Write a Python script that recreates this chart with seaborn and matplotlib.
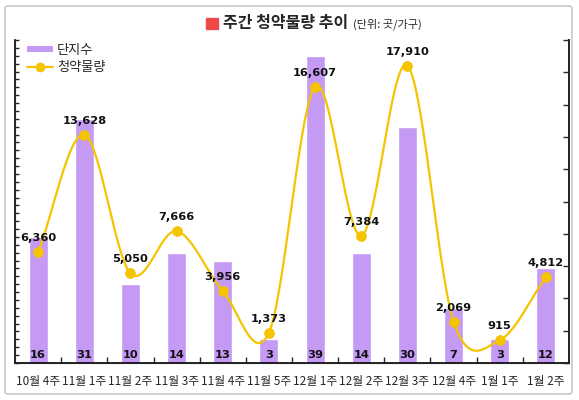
import numpy as np
import pandas as pd
import matplotlib
matplotlib.use("Agg")
import matplotlib.pyplot as plt
import seaborn as sns
from matplotlib.patches import Patch, Rectangle, FancyBboxPatch
from matplotlib.lines import Line2D
from matplotlib.ticker import FixedLocator

# data
weeks = ["10월 4주", "11월 1주", "11월 2주", "11월 3주", "11월 4주", "11월 5주",
         "12월 1주", "12월 2주", "12월 3주", "12월 4주", "1월 1주", "1월 2주"]
complexes = [16, 31, 10, 14, 13, 3, 39, 14, 30, 7, 3, 12]
supply = [6360, 13628, 5050, 7666, 3956, 1373, 16607, 7384, 17910, 2069, 915, 4812]

BAR_COLOR = "#C49AF5"
LINE_COLOR = "#F5C400"

sns.set_style("white")
plt.rcParams["font.family"] = ["Noto Sans CJK KR", "DejaVu Sans"]

df = pd.DataFrame({"pos": np.arange(len(weeks)), "week": weeks,
                   "complexes": complexes, "supply": supply})


def catmull_rom(y, steps=30):
    # smooth curve through the points (Catmull-Rom / Hermite)
    y = np.asarray(y, dtype=float)
    n = len(y)
    m = np.zeros(n)
    m[1:-1] = (y[2:] - y[:-2]) / 2
    m[0] = y[1] - y[0]
    m[-1] = y[-1] - y[-2]
    xs, ys = [], []
    t = np.linspace(0, 1, steps)
    for i in range(n - 1):
        h00 = 2 * t**3 - 3 * t**2 + 1
        h10 = t**3 - 2 * t**2 + t
        h01 = -2 * t**3 + 3 * t**2
        h11 = t**3 - t**2
        xs.append(i + t)
        ys.append(h00 * y[i] + h10 * m[i] + h01 * y[i + 1] + h11 * m[i + 1])
    return np.concatenate(xs), np.concatenate(ys)


fig = plt.figure(figsize=(5.79, 4.0), dpi=100)

# outer frame
fig.patches.append(FancyBboxPatch((5 / 579, 6 / 400), 567 / 579, 388 / 400,
                                  boxstyle="round,pad=0,rounding_size=0.006",
                                  transform=fig.transFigure, fill=False,
                                  edgecolor="#C8C8C8", linewidth=1.2))

ax = fig.add_axes([15 / 579, 37 / 400, 554 / 579, 323 / 400])
sns.barplot(data=df, x="pos", y="complexes", native_scale=True, width=0.41,
            color=BAR_COLOR, saturation=1, ax=ax)
ax.set_xlim(-0.5, len(weeks) - 0.5)
ax.set_ylim(0, 41)
ax.set_xlabel("")
ax.set_ylabel("")
ax.set_xticks(df["pos"])
ax.set_xticklabels(weeks, fontsize=8.5)
ax.xaxis.set_minor_locator(FixedLocator(np.arange(0.5, len(weeks) - 1, 1)))
ax.tick_params(axis="x", which="major", length=0, pad=9)
ax.tick_params(axis="x", which="minor", direction="in", length=4, width=1, bottom=True)
ax.yaxis.set_major_locator(FixedLocator(np.arange(0, 42, 1)))
ax.tick_params(axis="y", direction="in", length=3, width=1, left=True, labelleft=False)
for s in ["left", "bottom", "right"]:
    ax.spines[s].set_color("black")
    ax.spines[s].set_linewidth(1.2)
ax.spines["top"].set_visible(False)

for i, v in enumerate(complexes):
    ax.annotate(str(v), (i, 0), xytext=(0, 6), textcoords="offset points",
                ha="center", va="center", fontsize=8.2, fontweight="bold",
                family="DejaVu Sans", color="#111111")

ax2 = ax.twinx()
xs, ys = catmull_rom(supply)
ax2.plot(xs, ys, color=LINE_COLOR, linewidth=1.6, zorder=3)
sns.scatterplot(data=df, x="pos", y="supply", color=LINE_COLOR, edgecolor=LINE_COLOR,
                s=50, ax=ax2, zorder=4, legend=False)
ax2.set_ylim(-500, 19500)
ax2.set_xlim(-0.5, len(weeks) - 0.5)
ax2.set_ylabel("")
ax2.yaxis.set_major_locator(FixedLocator(np.linspace(-500, 19500, 11)))
ax2.tick_params(axis="y", direction="in", length=4, width=1, right=True, labelright=False)
ax2.spines["top"].set_visible(False)
ax2.spines["right"].set_linewidth(1.2)

for i, v in enumerate(supply):
    ax2.annotate(f"{v:,}", (i, v), xytext=(0, 10), textcoords="offset points",
                 ha="center", va="center", fontsize=8.2, fontweight="bold",
                 family="DejaVu Sans", color="#111111", zorder=5)

handles = [Patch(facecolor=BAR_COLOR, edgecolor="none"),
           Line2D([], [], color=LINE_COLOR, linewidth=1.6, marker="o",
                  markersize=6, markerfacecolor=LINE_COLOR, markeredgecolor=LINE_COLOR)]
ax2.legend(handles, ["단지수", "청약물량"], loc="upper left", frameon=False,
           fontsize=9.5, bbox_to_anchor=(0.0, 1.025), handlelength=2.0,
           handleheight=0.35, handletextpad=0.3, labelspacing=0.35, borderpad=0.4)

# title
fig.patches.append(Rectangle((206 / 579, 1 - 29 / 400), 12 / 579, 11 / 400,
                             transform=fig.transFigure, color="#F04848"))
fig.text(223 / 579, 1 - 23 / 400, "주간 청약물량 추이", fontsize=11.5,
         fontweight="bold", va="center", ha="left")
fig.text(353 / 579, 1 - 24 / 400, "(단위: 곳/가구)", fontsize=8,
         va="center", ha="left")

fig.savefig("out.png", dpi=100, facecolor="white")
